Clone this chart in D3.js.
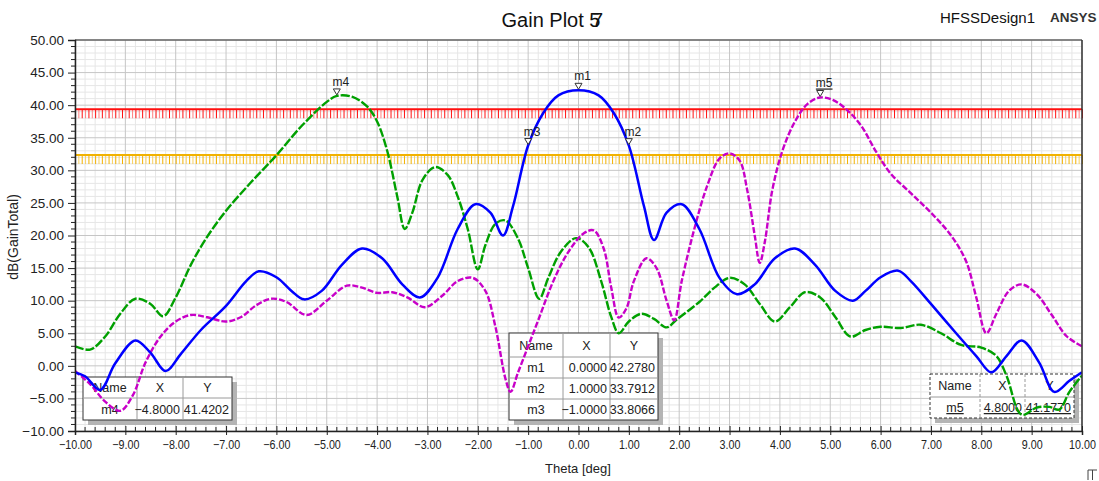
<!DOCTYPE html>
<html>
<head>
<meta charset="utf-8">
<script src="https://cdn.jsdelivr.net/npm/d3@7"></script>
<style>
  html, body { margin: 0; padding: 0; background: #ffffff; }
  svg { display: block; font-family: "Liberation Sans", Arial, sans-serif; }
</style>
</head>
<body>
<svg id="chart" width="1099" height="481"></svg>
<script>
// ---- data -------------------------------------------------------------
const xTickValues = [-10, -9, -8, -7, -6, -5, -4, -3, -2, -1, 0, 1, 2, 3, 4, 5, 6, 7, 8, 9, 10];
const yTickValues = [-10, -5, 0, 5, 10, 15, 20, 25, 30, 35, 40, 45, 50];

const blueTheta = [-10, -9.8, -9.5, -9.2, -8.8, -8.5, -8.2, -7.9, -7.5, -7.0, -6.6, -6.35, -6.0, -5.7, -5.45, -5.1, -4.7, -4.3, -3.9, -3.5, -3.15, -2.8, -2.4, -2.05, -1.75, -1.5, -1.3, -1.0, -0.7, -0.4, 0, 0.4, 0.7, 1.0, 1.3, 1.5, 1.75, 2.05, 2.4, 2.8, 3.15, 3.5, 3.9, 4.3, 4.7, 5.1, 5.45, 5.7, 6.0, 6.35, 6.6, 7.0, 7.5, 7.9, 8.2, 8.5, 8.8, 9.15, 9.45, 9.75, 10];
const blueGain = [-1.0, -1.6, -3.7, 0.4, 3.9, 2.0, -0.8, 1.8, 5.5, 9.2, 13.0, 14.5, 13.6, 11.5, 10.2, 11.5, 15.5, 18.0, 16.5, 12.5, 10.5, 13.5, 21.0, 24.8, 23.5, 20.0, 24.5, 33.8066, 38.8, 41.5, 42.278, 41.5, 38.8, 33.7912, 24.5, 19.3, 23.5, 24.8, 21.0, 13.5, 11.0, 12.5, 16.5, 18.0, 15.5, 11.5, 10.0, 11.5, 13.6, 14.6, 13.0, 9.5, 5.0, 1.5, -1.0, 1.5, 3.9, 0.5, -4.0, -2.3, -1.0];

const greenTheta = [-10, -9.7, -9.4, -9.1, -8.8, -8.5, -8.25, -8.0, -7.7, -7.4, -7.0, -6.5, -6.0, -5.5, -5.0, -4.8, -4.5, -4.2, -4.0, -3.8, -3.6, -3.45, -3.3, -3.1, -2.85, -2.6, -2.4, -2.2, -2.0, -1.85, -1.65, -1.45, -1.2, -1.0, -0.78, -0.6, -0.35, -0.05, 0.2, 0.45, 0.65, 0.8, 1.0, 1.25, 1.5, 1.75, 1.95, 2.4, 2.7, 3.0, 3.3, 3.6, 3.9, 4.2, 4.5, 4.8, 5.1, 5.4, 5.7, 6.0, 6.4, 6.8, 7.2, 7.6, 8.0, 8.3, 8.5, 8.8, 9.1, 9.35, 9.55, 9.75, 10];
const greenGain = [3.0, 2.5, 4.5, 8.0, 10.3, 9.5, 7.6, 10.5, 15.5, 19.5, 23.8, 28.2, 32.3, 36.8, 40.5, 41.4202, 41.3, 39.8, 37.5, 33.0, 26.0, 21.0, 23.5, 28.5, 30.5, 29.3, 26.0, 21.0, 14.8, 18.5, 21.8, 22.3, 19.5, 15.0, 10.3, 13.5, 17.5, 19.6, 18.2, 13.0, 7.5, 5.0, 6.8, 8.0, 7.2, 5.9, 7.1, 9.8, 12.0, 13.5, 12.5, 9.5, 6.8, 9.0, 11.3, 10.5, 7.5, 4.5, 5.5, 6.0, 5.8, 6.3, 5.0, 3.2, 2.8, 1.5, -1.5, -7.5, -6.4, -6.3, -6.7, -4.0, -1.5];

const magentaTheta = [-10, -9.7, -9.4, -9.1, -8.85, -8.6, -8.3, -8.0, -7.7, -7.4, -7.0, -6.7, -6.4, -6.1, -5.8, -5.4, -5.0, -4.6, -4.3, -4.0, -3.7, -3.4, -3.05, -2.7, -2.4, -2.1, -1.85, -1.65, -1.45, -1.35, -1.2, -1.0, -0.8, -0.5, -0.2, 0.1, 0.3, 0.5, 0.65, 0.8, 0.95, 1.1, 1.35, 1.55, 1.75, 1.9, 2.05, 2.3, 2.55, 2.8, 3.0, 3.2, 3.35, 3.5, 3.6, 3.7, 3.85, 4.05, 4.3, 4.55, 4.8, 5.05, 5.3, 5.6, 5.9, 6.2, 6.6, 7.0, 7.4, 7.7, 7.9, 8.1, 8.3, 8.55, 8.8, 9.1, 9.4, 9.7, 10];
const magentaGain = [-0.8, -2.8, -5.5, -6.9, -4.5, 0.5, 4.5, 6.8, 7.8, 7.5, 6.8, 7.5, 9.3, 10.3, 9.8, 7.8, 10.0, 12.3, 12.0, 11.2, 11.3, 10.5, 9.0, 10.8, 13.0, 13.5, 11.5, 6.0, -2.0, -4.0, -1.0, 3.0, 7.0, 13.0, 17.5, 20.3, 20.8, 18.0, 12.0, 7.4, 8.8, 13.0, 16.5, 15.0, 10.0, 7.0, 13.0, 21.0, 27.5, 31.8, 32.6, 31.5, 27.0, 20.0, 15.8, 19.0, 27.0, 33.0, 37.5, 40.2, 41.177, 40.8, 39.5, 37.0, 33.0, 29.5, 26.5, 23.5, 20.0, 16.0, 10.5, 5.0, 8.0, 11.5, 12.5, 11.0, 7.8, 4.5, 3.0];

// horizontal limit lines (dB)
const limitValues = [39.37, 32.35];

// marker readouts
const markerNames = ["m1", "m2", "m3", "m4", "m5"];
const markerTheta = [0.0, 1.0, -1.0, -4.8, 4.8];
const markerGain = [42.278, 33.7912, 33.8066, 41.4202, 41.177];

// ---- layout -----------------------------------------------------------
const svg = d3.select("#chart");
const plot = { left: 75, right: 1082, top: 40, bottom: 431 };
const x = d3.scaleLinear().domain([-10, 10]).range([plot.left, plot.right]);
const y = d3.scaleLinear().domain([-10, 50]).range([plot.bottom, plot.top]);

const FONT = '"Liberation Sans", Arial, sans-serif';

// ---- grid -------------------------------------------------------------
const grid = svg.append("g");
const minorX = d3.range(-100, 101, 2).map(v => v / 10).filter(v => Math.abs(v % 1) > 1e-9);
const minorY = d3.range(-10, 51, 1).filter(v => v % 5 !== 0);
grid.selectAll(".mx").data(minorX).join("line")
  .attr("x1", d => x(d)).attr("x2", d => x(d)).attr("y1", plot.top).attr("y2", plot.bottom)
  .attr("stroke", "#e6e6e6").attr("stroke-width", 1);
grid.selectAll(".my").data(minorY).join("line")
  .attr("y1", d => y(d)).attr("y2", d => y(d)).attr("x1", plot.left).attr("x2", plot.right)
  .attr("stroke", "#e6e6e6").attr("stroke-width", 1);
grid.selectAll(".Mx").data(xTickValues).join("line")
  .attr("x1", d => x(d)).attr("x2", d => x(d)).attr("y1", plot.top).attr("y2", plot.bottom)
  .attr("stroke", "#c6c6c6").attr("stroke-width", 1);
grid.selectAll(".My").data(yTickValues).join("line")
  .attr("y1", d => y(d)).attr("y2", d => y(d)).attr("x1", plot.left).attr("x2", plot.right)
  .attr("stroke", "#c6c6c6").attr("stroke-width", 1);

// ---- limit lines with hatching ---------------------------------------
const limitColors = [["#ff1010", "#ff8080"], ["#f2b200", "#f8d060"]];
const hatchSteps = d3.range(0, 301).map(i => -10 + i / 15);
limitValues.forEach((v, k) => {
  const g = svg.append("g");
  g.selectAll("line.h").data(hatchSteps).join("line")
    .attr("x1", d => x(d) + 0.5).attr("x2", d => x(d) + 0.5)
    .attr("y1", y(v)).attr("y2", y(v) + 9)
    .attr("stroke", (d, i) => i % 2 ? limitColors[k][1] : limitColors[k][0])
    .attr("stroke-width", 1);
  g.append("line")
    .attr("x1", plot.left).attr("x2", plot.right).attr("y1", y(v)).attr("y2", y(v))
    .attr("stroke", limitColors[k][0]).attr("stroke-width", 2);
});

// ---- marker tables -----------------------------------------------------
function drawTable(box, rows, opts) {
  const g = svg.append("g");
  const w = box.cols[box.cols.length - 1] - box.cols[0];
  const h = box.rows[box.rows.length - 1] - box.rows[0];
  g.append("rect").attr("x", box.cols[0] + 5).attr("y", box.rows[0] + 5)
    .attr("width", w).attr("height", h).attr("fill", "#b4b4b4");
  g.append("rect").attr("x", box.cols[0]).attr("y", box.rows[0])
    .attr("width", w).attr("height", h).attr("fill", "#ffffff")
    .attr("stroke", "#333").attr("stroke-width", 1)
    .attr("stroke-dasharray", opts.dashed ? "3,2" : null);
  box.cols.slice(1, -1).forEach(c => g.append("line").attr("x1", c).attr("x2", c)
    .attr("y1", box.rows[0]).attr("y2", box.rows[box.rows.length - 1])
    .attr("stroke", "#9a9a9a").attr("stroke-dasharray", opts.dashed ? "3,2" : null));
  box.rows.slice(1, -1).forEach(r => g.append("line").attr("y1", r).attr("y2", r)
    .attr("x1", box.cols[0]).attr("x2", box.cols[box.cols.length - 1])
    .attr("stroke", "#9a9a9a"));
  rows.forEach((row, ri) => {
    const cy = (box.rows[ri] + box.rows[ri + 1]) / 2 + 4.5;
    row.forEach((txt, ci) => {
      const header = ri === 0;
      const center = header || ci === 0;
      const tx = center ? (box.cols[ci] + box.cols[ci + 1]) / 2 : box.cols[ci + 1] - 3;
      g.append("text").attr("x", tx).attr("y", cy)
        .attr("text-anchor", center ? "middle" : "end")
        .attr("font-family", FONT).attr("font-size", 12.5).attr("fill", "#222")
        .attr("text-decoration", (!header && opts.underline) ? "underline" : null)
        .text(txt);
    });
  });
}
const fmt4 = d3.format(".4f");
drawTable({ cols: [83, 137, 183, 232], rows: [377, 398, 420] },
  [["Name", "X", "Y"], [markerNames[3], fmt4(markerTheta[3]), fmt4(markerGain[3])]], {});
drawTable({ cols: [509, 563, 610, 658], rows: [333, 357, 378, 399, 420] },
  [["Name", "X", "Y"]].concat([0, 1, 2].map(i => [markerNames[i], fmt4(markerTheta[i]), fmt4(markerGain[i])])), {});
drawTable({ cols: [930, 980, 1025, 1074], rows: [374, 397, 418] },
  [["Name", "X", "Y"], [markerNames[4], fmt4(markerTheta[4]), fmt4(markerGain[4])]], { dashed: true, underline: true });

// ---- traces -----------------------------------------------------------
const line = d3.line().x(d => x(d[0])).y(d => y(d[1])).curve(d3.curveCatmullRom.alpha(0.5));
const traces = [
  { t: greenTheta, g: greenGain, color: "#00a000", dash: "9,2", width: 2.4 },
  { t: magentaTheta, g: magentaGain, color: "#c800c8", dash: "6,2", width: 2.4 },
  { t: blueTheta, g: blueGain, color: "#0000ff", dash: null, width: 2.5 }
];
svg.append("clipPath").attr("id", "plotclip").append("rect")
  .attr("x", plot.left).attr("y", plot.top).attr("width", plot.right - plot.left).attr("height", plot.bottom - plot.top);
traces.forEach(tr => {
  svg.append("path")
    .datum(tr.t.map((t, i) => [t, tr.g[i]]))
    .attr("d", line)
    .attr("clip-path", "url(#plotclip)")
    .attr("fill", "none").attr("stroke", tr.color).attr("stroke-width", tr.width)
    .attr("stroke-dasharray", tr.dash).attr("stroke-linejoin", "round");
});

// ---- marker flags -----------------------------------------------------
const mk = svg.append("g");
markerNames.forEach((name, i) => {
  const px = x(markerTheta[i]), py = y(markerGain[i]);
  mk.append("path")
    .attr("d", `M${px - 3.5},${py - 7} L${px + 3.5},${py - 7} L${px},${py - 1} Z`)
    .attr("fill", "#ffffff").attr("stroke", "#333").attr("stroke-width", 1);
  mk.append("text").attr("x", px + 4).attr("y", py - 10)
    .attr("text-anchor", "middle").attr("font-family", FONT).attr("font-size", 12)
    .attr("fill", "#222").attr("text-decoration", name === "m5" ? "underline" : null)
    .text(name);
});

// ---- axes -------------------------------------------------------------
const ax = svg.append("g");
// frame
ax.append("line").attr("x1", plot.left).attr("x2", plot.right).attr("y1", plot.top).attr("y2", plot.top)
  .attr("stroke", "#666").attr("stroke-width", 1.5);
ax.append("line").attr("x1", plot.right).attr("x2", plot.right).attr("y1", plot.top).attr("y2", plot.bottom)
  .attr("stroke", "#333").attr("stroke-width", 1.5);

const yAxis = d3.axisLeft(y).tickValues(yTickValues).tickSize(7).tickFormat(d3.format(".2f"));
const yG = ax.append("g").attr("transform", `translate(${plot.left},0)`).call(yAxis);
yG.selectAll("text").attr("font-family", FONT).attr("font-size", 13.5).attr("fill", "#222").attr("x", -11);
yG.selectAll("line, path").attr("stroke", "#222");
yG.select(".domain").attr("stroke-width", 1.5);
ax.selectAll(".yminor").data(minorY).join("line")
  .attr("x1", plot.left - 4).attr("x2", plot.left).attr("y1", d => y(d)).attr("y2", d => y(d))
  .attr("stroke", "#222");

const xAxis = d3.axisBottom(x).tickValues(xTickValues).tickSize(4).tickFormat(d3.format(".2f"));
const xG = ax.append("g").attr("transform", `translate(0,${plot.bottom})`).call(xAxis);
xG.selectAll("line, path").attr("stroke", "#222");
xG.select(".domain").attr("stroke-width", 1.5);
xG.selectAll(".tick line").attr("y1", -5);
xG.selectAll("text").each(function () {
  d3.select(this).attr("y", null).attr("dy", null)
    .attr("transform", `translate(0,18) scale(0.86,1)`)
    .attr("font-family", FONT).attr("font-size", 12.5).attr("fill", "#222");
});
ax.selectAll(".xminor").data(minorX).join("line")
  .attr("x1", d => x(d)).attr("x2", d => x(d)).attr("y1", plot.bottom - 4).attr("y2", plot.bottom)
  .attr("stroke", "#222");

// ---- titles -----------------------------------------------------------
// plot number is drawn as a "5" with a "7" struck over it
svg.append("text").attr("x", 551).attr("y", 27).attr("text-anchor", "middle")
  .attr("font-family", FONT).attr("font-size", 20).attr("fill", "#111").text("Gain Plot 5");
svg.append("text").attr("x", 597.5).attr("y", 27).attr("text-anchor", "middle")
  .attr("font-family", FONT).attr("font-size", 20).attr("fill", "#111").text("7");
svg.append("text").attr("x", 940).attr("y", 23)
  .attr("font-family", FONT).attr("font-size", 15).attr("fill", "#111").text("HFSSDesign1");
svg.append("text").attr("x", 1050).attr("y", 22)
  .attr("font-family", FONT).attr("font-size", 13.5).attr("font-weight", "bold").attr("fill", "#333").text("ANSYS");

svg.append("text").attr("transform", `translate(18,237) rotate(-90)`).attr("text-anchor", "middle")
  .attr("font-family", FONT).attr("font-size", 14).attr("fill", "#222").text("dB(GainTotal)");
svg.append("text").attr("x", 578).attr("y", 473).attr("text-anchor", "middle")
  .attr("font-family", FONT).attr("font-size", 13).attr("fill", "#222").text("Theta [deg]");

// small corner glyph
svg.append("path").attr("d", "M1088,470 L1097,470 M1092.5,470 L1092.5,480 M1088,470 L1088,480")
  .attr("stroke", "#444").attr("fill", "none").attr("stroke-width", 1);
</script>
</body>
</html>
